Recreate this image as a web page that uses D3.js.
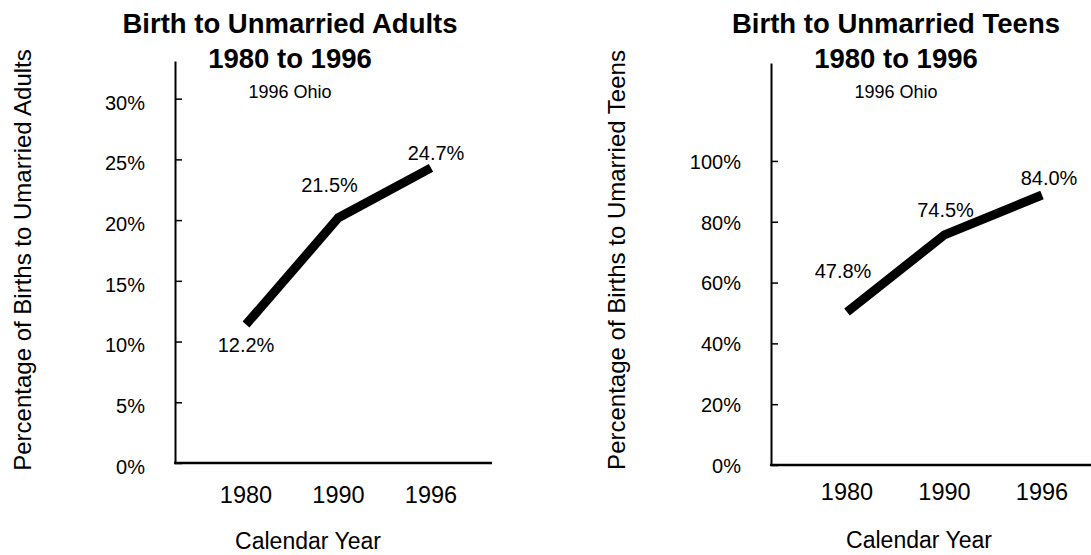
<!DOCTYPE html>
<head>
  <meta charset="utf-8">
  <script src="https://cdn.jsdelivr.net/npm/d3@7"></script>
  <style>
    body { margin: 0; background: #fff; }
    svg { display: block; }
    text { font-family: "Liberation Sans", Arial, Helvetica, sans-serif; fill: #000; }
  </style>
</head>
<body>
<svg></svg>
<script>
var years = ["1980", "1990", "1996"]

// plotted heights of the line and the printed labels
var adultValues = [11.4, 20.2, 24.3]
var adultLabels = ["12.2%", "21.5%", "24.7%"]
var adultTicks = [0, 5, 10, 15, 20, 25, 30]

var teenValues = [50.3, 75.7, 88.8]
var teenLabels = ["47.8%", "74.5%", "84.0%"]
var teenTicks = [0, 20, 40, 60, 80, 100]

var width = 1091, height = 555

var svg = d3.select('svg')
            .attr('width', width)
            .attr('height', height)

var panels = [
  { title: "Birth to Unmarried Adults", ylabel: "Percentage of Births to Umarried Adults"
  , values: adultValues, labels: adultLabels, ticks: adultTicks, top: 33.1
  , axisX: 175, axisRight: 492, yBottom: 463, yTop: 61, xRange: [246, 431]
  , titleX: 290, yearY: 503, calX: 308, calY: 549, ylabX: 31, ylabY: 260, tickDy: "0.52em"
  , offsets: [[0, 27], [-9, -26], [5, -8]]
  }
, { title: "Birth to Unmarried Teens", ylabel: "Percentage of Births to Umarried Teens"
  , values: teenValues, labels: teenLabels, ticks: teenTicks, top: 132.2
  , axisX: 771, axisRight: 1100, yBottom: 465, yTop: 63, xRange: [847, 1042]
  , titleX: 896, yearY: 500, calX: 919, calY: 548, ylabX: 625, ylabY: 260, tickDy: "0.37em"
  , offsets: [[-4, -34], [1, -18], [7, -10]]
  }
]

panels.forEach(function (p) {
  var g = svg.append('g')

  var y = d3.scaleLinear().domain([0, p.top]).range([p.yBottom, p.yTop])
  var x = d3.scalePoint().domain(years).range(p.xRange)

  // titles
  g.append('text').attr('x', p.titleX).attr('y', 33)
   .attr('text-anchor', 'middle').style('font-size', '27.5px').style('font-weight', 'bold')
   .text(p.title)
  g.append('text').attr('x', p.titleX).attr('y', 68)
   .attr('text-anchor', 'middle').style('font-size', '27.5px').style('font-weight', 'bold')
   .text("1980 to 1996")
  g.append('text').attr('x', p.titleX).attr('y', 98)
   .attr('text-anchor', 'middle').style('font-size', '18px')
   .text("1996 Ohio")

  // y axis, ticks pointing inward
  var yAxis = d3.axisLeft(y)
                .tickValues(p.ticks)
                .tickFormat(function (d) { return d + "%" })
                .tickSizeInner(-7)
                .tickSizeOuter(0)
                .tickPadding(30)

  var ya = g.append('g')
            .attr('transform', 'translate(' + p.axisX + ',0)')
            .call(yAxis)
  ya.select('.domain').attr('stroke', '#000').attr('stroke-width', 2)
  ya.selectAll('.tick line').attr('stroke', '#000').attr('stroke-width', 1.5)
  ya.selectAll('.tick text')
    .attr('dy', p.tickDy)
    .style('font-size', '20px')
    .style('font-family', '"Liberation Sans", Arial, sans-serif')
    .attr('fill', '#000')

  // x axis baseline
  g.append('line')
   .attr('x1', p.axisX - 1).attr('x2', p.axisRight)
   .attr('y1', y(0)).attr('y2', y(0))
   .attr('stroke', '#000').attr('stroke-width', 2.5)

  // year labels
  g.selectAll('.year').data(years)
   .enter().append('text')
   .attr('class', 'year')
   .attr('x', function (d) { return x(d) })
   .attr('y', p.yearY)
   .attr('text-anchor', 'middle')
   .style('font-size', '23.5px')
   .text(function (d) { return d })

  g.append('text').attr('x', p.calX).attr('y', p.calY)
   .attr('text-anchor', 'middle').style('font-size', '23px')
   .text("Calendar Year")

  g.append('text')
   .attr('transform', 'translate(' + p.ylabX + ',' + p.ylabY + ') rotate(-90)')
   .attr('text-anchor', 'middle').style('font-size', '24px')
   .text(p.ylabel)

  // the data line
  var line = d3.line()
               .x(function (d, i) { return x(years[i]) })
               .y(function (d) { return y(d) })

  g.append('path')
   .datum(p.values)
   .attr('d', line)
   .attr('fill', 'none')
   .attr('stroke', '#000')
   .attr('stroke-width', 9)
   .attr('stroke-linejoin', 'miter')
   .attr('stroke-linecap', 'butt')

  g.selectAll('.vlabel').data(p.values)
   .enter().append('text')
   .attr('class', 'vlabel')
   .attr('x', function (d, i) { return x(years[i]) + p.offsets[i][0] })
   .attr('y', function (d, i) { return y(d) + p.offsets[i][1] })
   .attr('text-anchor', 'middle')
   .style('font-size', '20px')
   .text(function (d, i) { return p.labels[i] })
})
</script>
</body>
